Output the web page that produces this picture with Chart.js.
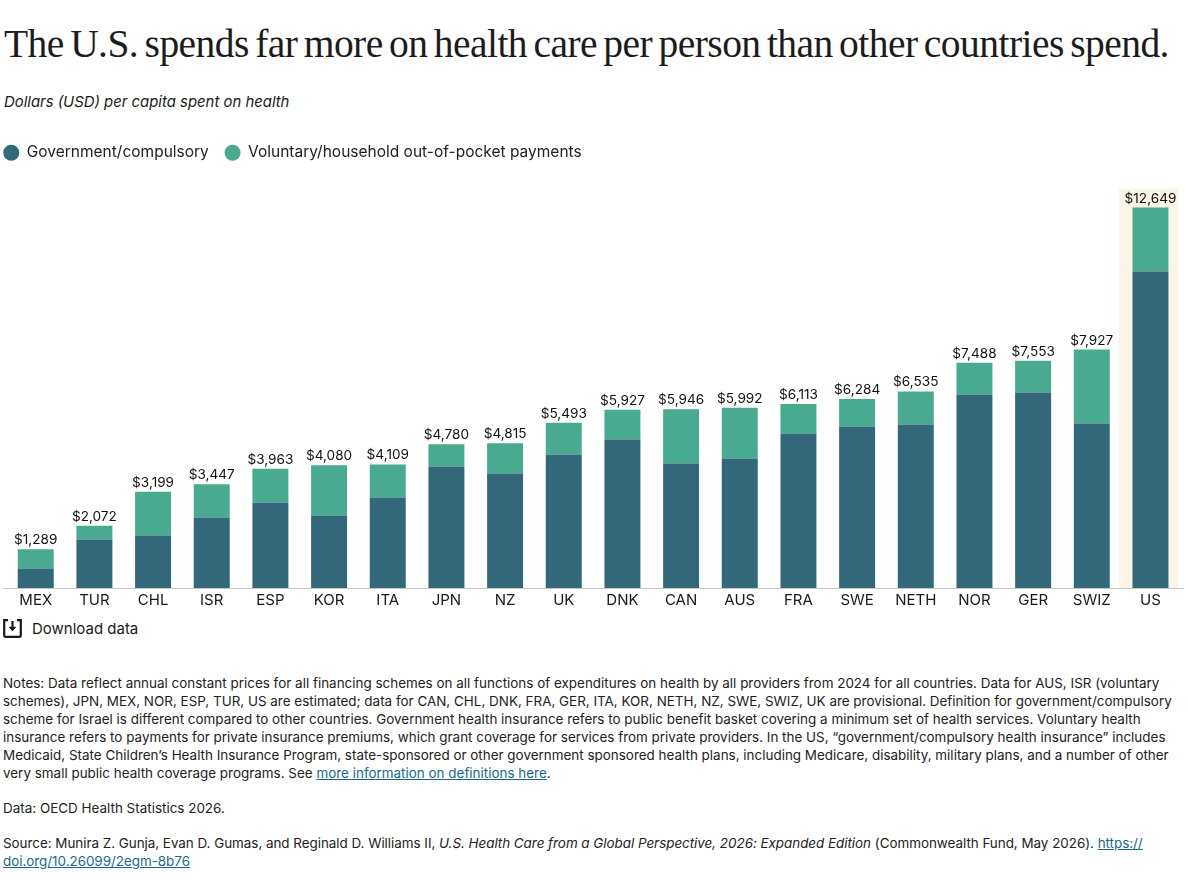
<!DOCTYPE html>
<html><head><meta charset="utf-8">
<script src="https://cdn.jsdelivr.net/npm/chart.js@4"></script>
<style>
html,body{margin:0;padding:0;background:#fff;width:1188px;height:885px;overflow:hidden;color:#1a1a1a;font-family:Inter,"Liberation Sans",sans-serif}
.abs{position:absolute}
#title{left:4px;top:21px;font:39.5px "Liberation Serif",serif;letter-spacing:-.54px;word-spacing:-3px;white-space:nowrap;color:#1c1c1c}
#sub{left:4px;top:93px;font:italic 14.9px Inter,sans-serif;white-space:nowrap}
#wrap{left:0;top:129px;width:1188px;height:483px}
#dl{left:3px;top:619px;font:15px Inter,sans-serif;white-space:nowrap;display:flex;align-items:center}
#dl svg{margin-right:10px}
#notes{left:3px;top:675px;width:1180px;font:13.45px/17.9px Inter,sans-serif;color:#222;white-space:nowrap}
#notes p{margin:0 0 17.5px}
#notes p.src{letter-spacing:-.035px}
a{color:#17698e;text-decoration:underline}
</style></head><body>
<div class="abs" id="title">The U.S. spends far more on health care per person than other countries spend.</div>
<div class="abs" id="sub">Dollars (USD) per capita spent on health</div>
<div class="abs" id="wrap"><canvas id="c" width="1188" height="483"></canvas></div>
<div class="abs" id="dl"><svg width="19" height="19" viewBox="0 0 19 19" fill="none" stroke="#1a1a1a" stroke-width="2.2"><path d="M5 1.2H1.2v15q0 1.6 1.6 1.6h13.4q1.6 0 1.6-1.6v-15H14"/><path d="M9.5 2v8.5"/><path d="M6.5 8.2h6l-3 3.6z" fill="#1a1a1a" stroke-width="1"/></svg>Download data</div>
<div class="abs" id="notes">
<p>Notes: Data reflect annual constant prices for all financing schemes on all functions of expenditures on health by all providers from 2024 for all countries. Data for AUS, ISR (voluntary<br>schemes), JPN, MEX, NOR, ESP, TUR, US are estimated; data for CAN, CHL, DNK, FRA, GER, ITA, KOR, NETH, NZ, SWE, SWIZ, UK are provisional. Definition for government/compulsory<br>scheme for Israel is different compared to other countries. Government health insurance refers to public benefit basket covering a minimum set of health services. Voluntary health<br>insurance refers to payments for private insurance premiums, which grant coverage for services from private providers. In the US, “government/compulsory health insurance” includes<br>Medicaid, State Children’s Health Insurance Program, state-sponsored or other government sponsored health plans, including Medicare, disability, military plans, and a number of other<br>very small public health coverage programs. See <a href="#">more information on definitions here</a>.</p>
<p>Data: OECD Health Statistics 2026.</p>
<p class="src">Source: Munira Z. Gunja, Evan D. Gumas, and Reginald D. Williams II, <i>U.S. Health Care from a Global Perspective, 2026: Expanded Edition</i> (Commonwealth Fund, May 2026). <a href="#">https://<br>doi.org/10.26099/2egm-8b76</a></p>
</div>
<script>
const categories=["MEX","TUR","CHL","ISR","ESP","KOR","ITA","JPN","NZ","UK","DNK","CAN","AUS","FRA","SWE","NETH","NOR","GER","SWIZ","US"];
const government=[648,1612,1745,2343,2842,2410,3008,4039,3806,4438,4936,4138,4305,5136,5368,5435,6432,6498,5468,10521];
const totals=[1289,2072,3199,3447,3963,4080,4109,4780,4815,5493,5927,5946,5992,6113,6284,6535,7488,7553,7927,12649];
const voluntary=[641,460,1454,1104,1121,1670,1101,741,1009,1055,991,1808,1687,977,916,1100,1056,1055,2459,2128];
const seriesNames=["Government/compulsory","Voluntary/household out-of-pocket payments"];
const highlighted="US";
const FONT="Inter, sans-serif";
const decorations={id:"decorations",
 afterLayout(ch){ch.legend.left=-12.5;},
 beforeDatasetsDraw(ch){
  const {ctx,scales:{x,y}}=ch;
  const i=categories.indexOf(highlighted);
  const cx=x.getPixelForValue(i);
  const base=y.getPixelForValue(0);
  const top=y.getPixelForValue(totals[i])-19;
  ctx.save();ctx.fillStyle="#fbf5e8";
  ctx.fillRect(cx-31.5,top,59.3,base-top);
  ctx.restore();
 },
 afterDatasetsDraw(ch){
  const {ctx,scales:{x,y}}=ch;
  const base=y.getPixelForValue(0);
  ctx.save();
  ctx.strokeStyle="#c4c8ca";ctx.lineWidth=1;
  ctx.beginPath();ctx.moveTo(3,base+.5);ctx.lineTo(1184,base+.5);ctx.stroke();
  ctx.fillStyle="#111";ctx.font="13.6px "+FONT;ctx.textAlign="center";ctx.textBaseline="alphabetic";
  totals.forEach((t,i)=>ctx.fillText("$"+t.toLocaleString("en-US"),x.getPixelForValue(i),y.getPixelForValue(t)-5));
  ctx.restore();
 }};
new Chart(document.getElementById("c"),{
 type:"bar",
 data:{labels:categories,datasets:[
  {label:seriesNames[0],data:government,backgroundColor:"#33677a"},
  {label:seriesNames[1],data:voluntary,backgroundColor:"#49aa92"}]},
 plugins:[decorations],
 options:{responsive:false,animation:false,devicePixelRatio:1,
  layout:{padding:{left:6.4,right:8.2,top:0,bottom:0}},
  datasets:{bar:{barPercentage:.613,categoryPercentage:1}},
  plugins:{tooltip:{enabled:false},
   legend:{position:"top",align:"start",labels:{usePointStyle:true,pointStyle:"circle",boxWidth:16,boxHeight:11.3,padding:16,color:"#222",font:{family:FONT,size:15.5}}}},
  scales:{
   x:{stacked:true,grid:{display:false,drawTicks:false},border:{display:false},ticks:{color:"#1a1a1a",font:{family:FONT,size:15},padding:3,maxRotation:0,autoSkip:false}},
   y:{stacked:true,display:false,min:0,max:13879}
  }}
});
</script>
</body></html>
